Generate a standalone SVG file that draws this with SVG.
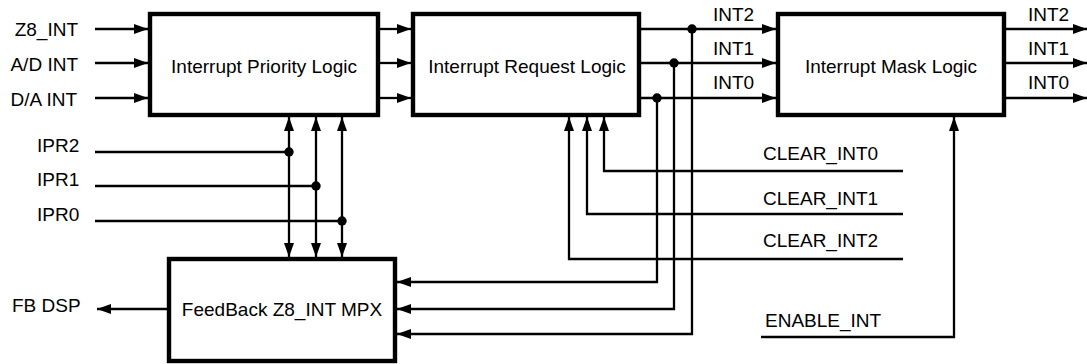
<svg xmlns="http://www.w3.org/2000/svg" width="1087" height="364" viewBox="0 0 1087 364">
<style>
text{font-family:"Liberation Sans",Arial,sans-serif;font-size:19px;fill:#000}
.box{fill:#fff;stroke:#000;stroke-width:4.4}
.w{fill:none;stroke:#000;stroke-width:2.3}
.a{marker-end:url(#ah)}
.b{marker-start:url(#ah);marker-end:url(#ah)}
.mid{text-anchor:middle}
.end{text-anchor:end}
</style>
<defs>
<marker id="ah" viewBox="0 0 14 10" refX="14" refY="5" markerWidth="14" markerHeight="10" markerUnits="userSpaceOnUse" orient="auto-start-reverse"><path d="M0,0 L14,5 L0,10 z" fill="#000"/></marker>
</defs>
<g id="connectors">
<line class="w a" x1="95" y1="29" x2="148" y2="29"/>
<line class="w a" x1="95" y1="63" x2="148" y2="63"/>
<line class="w a" x1="95" y1="98" x2="148" y2="98"/>
<line class="w a" x1="380" y1="29" x2="411" y2="29"/>
<line class="w a" x1="380" y1="63" x2="411" y2="63"/>
<line class="w a" x1="380" y1="98" x2="411" y2="98"/>
<line class="w a" x1="641" y1="29" x2="776" y2="29"/>
<line class="w a" x1="641" y1="63" x2="776" y2="63"/>
<line class="w a" x1="641" y1="98" x2="776" y2="98"/>
<line class="w a" x1="1006" y1="29" x2="1087" y2="29"/>
<line class="w a" x1="1006" y1="63" x2="1087" y2="63"/>
<line class="w a" x1="1006" y1="98" x2="1087" y2="98"/>
<polyline class="w a" points="692,29 692,334 397,334"/>
<polyline class="w a" points="674,63 674,309 397,309"/>
<polyline class="w a" points="657,98 657,282 397,282"/>
<polyline class="w a" points="903,171 604,171 604,117"/>
<polyline class="w a" points="903,214 587,214 587,117"/>
<polyline class="w a" points="903,259 569,259 569,117"/>
<polyline class="w a" points="761,337 954,337 954,117"/>
<line class="w a" x1="167" y1="309" x2="97" y2="309"/>
<line class="w" x1="95" y1="152" x2="289" y2="152"/>
<line class="w" x1="95" y1="186" x2="316" y2="186"/>
<line class="w" x1="95" y1="221" x2="342" y2="221"/>
<line class="w b" x1="289" y1="117" x2="289" y2="257"/>
<line class="w b" x1="316" y1="117" x2="316" y2="257"/>
<line class="w b" x1="342" y1="117" x2="342" y2="257"/>
<circle cx="692" cy="29" r="4.7"/>
<circle cx="674" cy="63" r="4.7"/>
<circle cx="657" cy="98" r="4.7"/>
<circle cx="289" cy="152" r="4.7"/>
<circle cx="316" cy="186" r="4.7"/>
<circle cx="342" cy="221" r="4.7"/>
</g>
<g id="priority">
<rect class="box" x="150" y="14" width="228" height="101"/>
<text class="mid" x="264" y="73">Interrupt Priority Logic</text>
</g>
<g id="request">
<rect class="box" x="413" y="14" width="226" height="101"/>
<text class="mid" x="527" y="73">Interrupt Request Logic</text>
</g>
<g id="mask">
<rect class="box" x="778" y="14" width="226" height="101"/>
<text class="mid" x="891" y="73">Interrupt Mask Logic</text>
</g>
<g id="feedback">
<rect class="box" x="169" y="259" width="226" height="102"/>
<text class="mid" x="282" y="316">FeedBack Z8_INT MPX</text>
</g>
<g id="labels">
<text class="end" x="78" y="36">Z8_INT</text>
<text class="end" x="78" y="71">A/D INT</text>
<text class="end" x="77" y="106">D/A INT</text>
<text x="37" y="152">IPR2</text>
<text x="37" y="186">IPR1</text>
<text x="37" y="221">IPR0</text>
<text x="12" y="312">FB DSP</text>
<text x="713" y="21">INT2</text>
<text x="713" y="55">INT1</text>
<text x="713" y="89">INT0</text>
<text x="1028" y="21">INT2</text>
<text x="1028" y="55">INT1</text>
<text x="1028" y="89">INT0</text>
<text x="763" y="160">CLEAR_INT0</text>
<text x="763" y="205">CLEAR_INT1</text>
<text x="763" y="247">CLEAR_INT2</text>
<text x="765" y="327">ENABLE_INT</text>
</g>
</svg>
